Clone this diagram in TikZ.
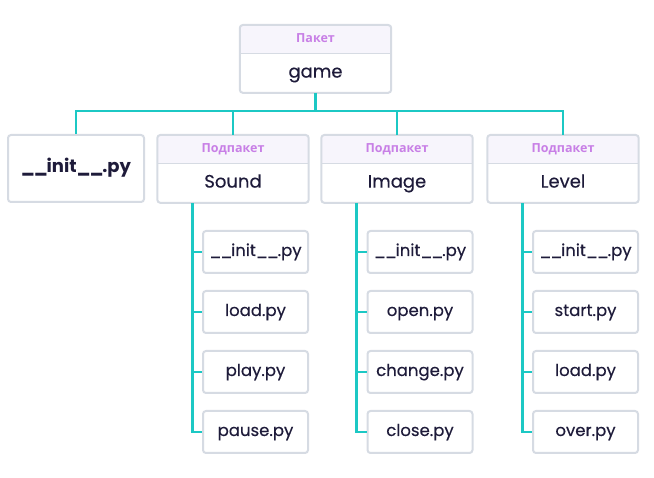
\documentclass[tikz,border=0pt]{standalone}
\usepackage{fontspec}
\setmainfont{Poppins}
\newfontfamily\med{Poppins}[FakeBold=0.35]
\newfontfamily\cyr{Open Sans}
\definecolor{teal}{HTML}{1CC8C4}
\definecolor{bordc}{HTML}{D6DBE3}
\definecolor{headf}{HTML}{F7F5FC}
\definecolor{headt}{HTML}{C87FE6}
\definecolor{txt}{HTML}{1E1B3A}
\newcommand{\us}{\_\kern-1.2pt}
\newcommand{\initpy}{\us\us init\us\us.py}
\tikzset{
  conn/.style={draw=teal, line width=2.5pt},
  body/.style={minimum width=151pt, minimum height=39pt, inner sep=0pt, text=txt, text height=12.5pt, text depth=3.5pt, font=\med\fontsize{18}{20}\selectfont},
  head/.style={minimum width=151pt, minimum height=28pt, inner sep=0pt, text=headt, text height=9pt, text depth=2pt, font=\cyr\bfseries\fontsize{12.5}{14}\selectfont},
  frame/.style={draw=bordc, line width=2pt, rounded corners=3pt},
  leaf/.style={draw=bordc, line width=2pt, rounded corners=3pt, fill=white, minimum width=105pt, minimum height=42pt, inner sep=0pt, text=txt, text height=11.5pt, text depth=3.5pt, font=\med\fontsize{16.5}{19}\selectfont},
}
\newcommand{\pkg}[4]{%
  \node[head, anchor=north] (#1h) at (#2,#3) {#4};
  \node[body, anchor=north] (#1) at (#1h.south) {\csname body#1\endcsname};
  \fill[headf, rounded corners=3pt] (#1h.south west) rectangle (#1h.north east);
  \fill[headf] ([yshift=5pt]#1h.south west) rectangle (#1h.south east);
  \node[head] at (#1h) {#4};
  \draw[bordc, line width=1.5pt] (#1h.south west) -- (#1h.south east);
  \draw[frame] (#1h.north west) rectangle (#1.south east);
}
\begin{document}
\begin{tikzpicture}[x=1pt, y=-1pt]
\useasboundingbox (0,0) rectangle (654,478);
\def\bodygame{game}
\def\bodysound{Sound}
\def\bodyimage{Image}
\def\bodylevel{Level}
\pkg{game}{315.5}{25}{Пакет}
\pkg{sound}{233}{135}{Подпакет}
\pkg{image}{397}{135}{Подпакет}
\pkg{level}{563}{135}{Подпакет}
\node[leaf, minimum width=136pt, minimum height=67pt, text height=12.5pt, font=\bfseries\fontsize{18}{20}\selectfont] (init) at (76,168.5) {\initpy};
% bus
\draw[conn] (game.south) -- ++(0,18) coordinate (bus);
\draw[conn] (init.north) -- (init.north |- bus) -| (levelh.north);
\draw[conn] (soundh.north) -- (soundh.north |- bus);
\draw[conn] (imageh.north) -- (imageh.north |- bus);
% children
\foreach \p/\cx/\a/\b/\c/\d in {sound/255.5/\initpy/load.py/play.py/pause.py,
                                 image/420/\initpy/open.py/change.py/close.py,
                                 level/585.5/\initpy/start.py/load.py/over.py}{
  \node[leaf] (\p1) at (\cx,252) {\a};
  \node[leaf] (\p2) at (\cx,312) {\b};
  \node[leaf] (\p3) at (\cx,372) {\c};
  \node[leaf] (\p4) at (\cx,432) {\d};
  \draw[conn] ([xshift=35pt]\p.south west) |- (\p4.west);
  \foreach \k in {1,2,3}{
    \draw[conn] ([xshift=35pt]\p.south west |- \p\k.west) -- (\p\k.west);
  }
}
\end{tikzpicture}
\end{document}
